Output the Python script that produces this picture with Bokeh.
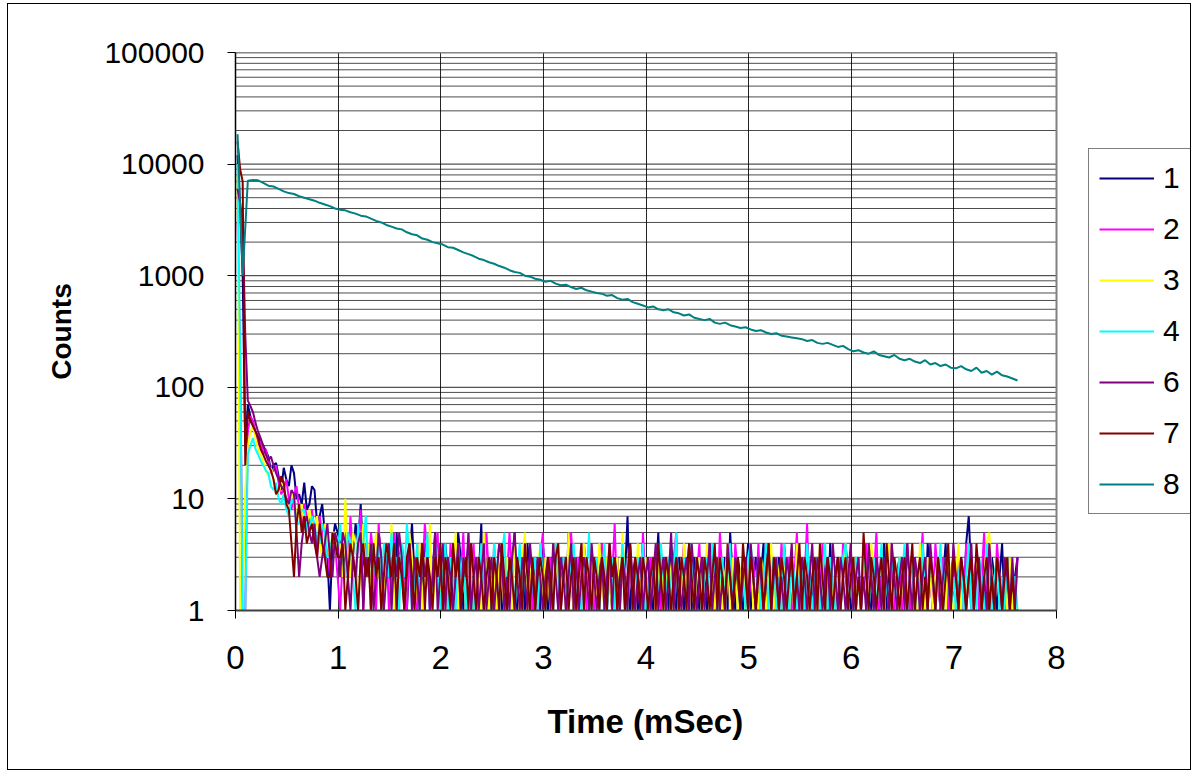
import numpy as np
from bokeh.plotting import figure
from bokeh.models import FixedTicker, PrintfTickFormatter, Legend, LegendItem, Range1d, Title
from bokeh.embed import file_html
from bokeh.resources import INLINE

# sample times (ms): detector series in 0.025 ms bins, series 8 in 0.05 ms bins
time_fine = np.round(0.02 + 0.025 * np.arange(305), 3)
time_coarse = np.round(0.02 + 0.05 * np.arange(153), 2)

s1 = [12000, 4000, 1000, 30, 70, 55, 48, 40, 36, 33, 30, 27, 24, 18, 20, 21, 16, 12, 19, 15,
      13, 20, 17, 10, 11, 9, 14, 8, 9, 13, 12, 6, 7, 9, 5, 3, 1, 4, 6, 5,
      4, 2, 3, 5, 2, 3, 6, 4, 9, 3, 2, 4, 1, 3, 2, 5, 3, 1, 4, 2,
      3, 1, 5, 2, 4, 2, 1, 3, 6, 2, 3, 1, 2, 4, 3, 1, 2, 5, 2, 3,
      1, 4, 2, 3, 1, 2, 5, 3, 1, 2, 4, 2, 1, 3, 2, 6, 1, 3, 2, 1,
      3, 2, 4, 1, 2, 1, 3, 2, 5, 1, 2, 3, 1, 4, 2, 1, 3, 2, 1, 4,
      2, 1, 3, 2, 4, 1, 2, 3, 1, 5, 2, 1, 3, 1, 2, 4, 2, 1, 3, 2,
      1, 2, 4, 1, 3, 2, 1, 2, 3, 1, 4, 2, 7, 1, 2, 3, 1, 2, 4, 1,
      3, 2, 1, 2, 5, 1, 3, 2, 1, 4, 2, 1, 3, 2, 1, 2, 4, 1, 3, 2,
      1, 3, 2, 1, 4, 2, 1, 3, 1, 2, 3, 1, 5, 2, 1, 3, 2, 1, 2, 4,
      1, 2, 3, 1, 2, 4, 1, 3, 2, 1, 2, 3, 1, 4, 2, 1, 3, 1, 2, 3,
      2, 1, 4, 2, 1, 3, 2, 1, 3, 2, 1, 4, 1, 2, 3, 1, 2, 4, 2, 1,
      3, 1, 2, 1, 4, 2, 3, 1, 2, 3, 1, 2, 4, 1, 3, 2, 1, 2, 3, 1,
      2, 4, 1, 3, 2, 1, 2, 3, 1, 4, 2, 1, 3, 2, 1, 2, 4, 1, 2, 3,
      1, 2, 3, 1, 4, 7, 2, 1, 3, 2, 1, 4, 2, 1, 3, 2, 1, 2, 4, 1,
      2, 3, 1, 2, 3]

s2 = [3000, 200, 1, 1, 40, 55, 50, 38, 30, 33, 25, 28, 22, 17, 18, 20, 14, 11, 12, 15,
      10, 8, 11, 13, 8, 6, 9, 7, 6, 8, 5, 3, 7, 5, 3, 4, 2, 5, 4, 2,
      1, 3, 5, 2, 7, 3, 2, 4, 8, 1, 4, 2, 5, 3, 1, 6, 2, 3, 4, 1,
      2, 5, 1, 3, 4, 2, 1, 5, 3, 2, 1, 4, 2, 6, 3, 1, 2, 3, 5, 1,
      3, 2, 1, 4, 2, 3, 1, 2, 5, 1, 3, 2, 4, 1, 2, 3, 1, 5, 2, 1,
      4, 1, 2, 3, 1, 2, 5, 2, 1, 3, 2, 1, 4, 2, 3, 1, 2, 1, 3, 5,
      1, 2, 3, 1, 4, 2, 1, 2, 3, 1, 5, 2, 1, 3, 2, 4, 1, 2, 3, 1,
      2, 1, 4, 2, 1, 3, 2, 6, 1, 2, 3, 1, 2, 4, 1, 3, 2, 1, 5, 2,
      1, 3, 2, 1, 4, 1, 2, 3, 2, 1, 3, 5, 1, 2, 4, 1, 2, 3, 1, 2,
      4, 1, 3, 2, 1, 2, 3, 1, 5, 2, 1, 2, 3, 1, 4, 2, 1, 3, 2, 1,
      2, 3, 1, 4, 1, 2, 3, 2, 1, 3, 2, 1, 4, 2, 1, 3, 1, 2, 5, 1,
      3, 2, 6, 1, 2, 3, 1, 2, 4, 1, 3, 2, 1, 2, 3, 1, 4, 2, 1, 3,
      1, 2, 3, 1, 2, 4, 1, 3, 2, 5, 1, 2, 1, 3, 2, 4, 1, 2, 3, 1,
      2, 4, 1, 2, 3, 1, 2, 5, 1, 3, 2, 1, 4, 2, 1, 3, 2, 1, 2, 3,
      1, 3, 2, 1, 4, 2, 1, 2, 3, 1, 2, 5, 1, 3, 2, 1, 4, 2, 1, 2,
      3, 1, 2, 1, 3]

s3 = [8000, 1, 1, 12, 30, 40, 45, 35, 28, 25, 22, 18, 16, 19, 15, 12, 11, 14, 13, 9,
      8, 11, 10, 7, 7, 9, 6, 5, 8, 6, 5, 7, 4, 3, 6, 4, 3, 5, 5, 3,
      4, 2, 10, 3, 2, 5, 4, 1, 3, 6, 2, 4, 1, 3, 5, 2, 3, 1, 4, 2,
      6, 1, 3, 2, 4, 1, 2, 5, 3, 1, 2, 4, 1, 3, 2, 6, 1, 2, 3, 1,
      4, 2, 1, 3, 2, 5, 1, 2, 3, 1, 4, 2, 1, 3, 2, 1, 5, 2, 1, 3,
      2, 1, 4, 2, 1, 3, 2, 1, 4, 2, 1, 3, 5, 1, 2, 3, 1, 2, 4, 1,
      3, 2, 1, 2, 4, 1, 3, 2, 1, 5, 2, 1, 3, 1, 2, 4, 2, 1, 3, 2,
      1, 4, 2, 1, 3, 2, 1, 2, 3, 1, 5, 2, 1, 3, 2, 1, 4, 2, 1, 3,
      2, 1, 3, 1, 2, 4, 1, 2, 3, 2, 1, 3, 2, 1, 4, 2, 1, 3, 1, 2,
      3, 1, 2, 4, 1, 2, 1, 3, 2, 1, 2, 4, 1, 3, 2, 1, 2, 3, 1, 2,
      4, 1, 2, 1, 3, 2, 1, 2, 4, 1, 3, 2, 1, 2, 3, 1, 2, 1, 4, 2,
      1, 3, 2, 1, 2, 3, 1, 4, 2, 1, 2, 3, 1, 2, 1, 3, 2, 4, 1, 2,
      3, 1, 2, 1, 3, 2, 1, 4, 2, 1, 2, 3, 1, 2, 4, 1, 2, 1, 3, 2,
      1, 2, 3, 1, 2, 1, 4, 2, 1, 3, 2, 1, 2, 3, 1, 2, 1, 3, 2, 1,
      2, 4, 1, 2, 1, 3, 2, 1, 3, 2, 1, 2, 4, 5, 2, 1, 3, 2, 1, 2,
      1, 3, 1, 2, 1]

s4 = [10000, 200, 1, 1, 25, 30, 35, 28, 25, 22, 20, 18, 17, 13, 12, 14, 10, 9, 11, 8,
      7, 10, 9, 6, 6, 8, 8, 5, 5, 7, 6, 4, 4, 6, 5, 3, 3, 5, 4, 3,
      6, 3, 2, 5, 4, 2, 1, 6, 3, 4, 7, 2, 4, 3, 2, 5, 1, 4, 3, 2,
      5, 2, 3, 1, 4, 2, 6, 3, 1, 2, 4, 1, 3, 2, 5, 1, 2, 4, 3, 1,
      2, 4, 1, 3, 2, 1, 4, 2, 3, 1, 5, 2, 1, 3, 2, 4, 1, 2, 3, 1,
      4, 2, 1, 3, 5, 1, 2, 3, 1, 2, 4, 1, 3, 2, 1, 2, 3, 1, 4, 2,
      1, 3, 2, 1, 4, 2, 1, 3, 2, 1, 3, 4, 1, 2, 1, 3, 2, 5, 1, 2,
      3, 1, 2, 4, 1, 2, 3, 1, 2, 1, 4, 2, 1, 3, 2, 1, 3, 2, 4, 1,
      2, 1, 3, 2, 1, 4, 2, 1, 3, 1, 2, 5, 1, 2, 3, 1, 2, 4, 1, 3,
      2, 1, 2, 3, 1, 4, 2, 1, 2, 3, 1, 2, 4, 1, 3, 2, 1, 2, 1, 3,
      4, 2, 1, 3, 1, 2, 4, 1, 2, 3, 1, 2, 1, 4, 2, 1, 3, 2, 1, 2,
      3, 1, 4, 2, 1, 2, 3, 1, 2, 4, 1, 3, 2, 1, 2, 1, 3, 4, 1, 2,
      1, 3, 2, 1, 4, 2, 1, 2, 3, 1, 2, 4, 1, 2, 1, 3, 2, 1, 3, 2,
      4, 1, 2, 3, 1, 2, 1, 4, 2, 1, 3, 2, 1, 2, 4, 1, 3, 2, 1, 2,
      1, 2, 3, 1, 2, 4, 1, 2, 1, 3, 2, 1, 4, 2, 1, 2, 3, 1, 2, 1,
      3, 1, 2, 2, 1]

s6 = [6000, 4500, 3000, 300, 76, 68, 60, 48, 40, 35, 30, 25, 22, 24, 20, 17, 15, 13, 12, 10,
      9, 12, 11, 5, 2, 4, 6, 7, 5, 4, 6, 3, 2, 3, 4, 6, 3, 2, 5, 4,
      2, 5, 4, 2, 1, 3, 2, 4, 5, 1, 3, 2, 4, 1, 2, 5, 3, 1, 2, 4,
      1, 3, 2, 5, 3, 1, 2, 4, 1, 3, 2, 1, 4, 2, 3, 1, 2, 5, 1, 2,
      4, 1, 3, 2, 1, 2, 4, 1, 3, 2, 5, 1, 2, 3, 1, 2, 4, 1, 2, 3,
      1, 2, 4, 3, 1, 2, 1, 3, 5, 2, 1, 3, 2, 1, 4, 2, 1, 3, 2, 1,
      2, 3, 1, 4, 2, 1, 3, 2, 1, 2, 4, 1, 3, 1, 2, 3, 2, 1, 4, 2,
      1, 2, 3, 1, 2, 4, 1, 3, 2, 1, 3, 2, 1, 4, 2, 1, 2, 3, 1, 2,
      3, 1, 2, 4, 1, 2, 3, 1, 2, 5, 1, 3, 2, 1, 2, 3, 1, 4, 2, 1,
      2, 3, 1, 2, 4, 1, 2, 3, 1, 2, 1, 4, 2, 1, 3, 2, 1, 2, 3, 1,
      4, 2, 1, 3, 2, 1, 2, 4, 1, 2, 3, 1, 2, 1, 3, 2, 4, 1, 2, 1,
      3, 2, 1, 2, 4, 1, 3, 2, 1, 2, 3, 1, 4, 2, 1, 3, 2, 1, 2, 4,
      1, 2, 3, 1, 2, 1, 4, 2, 1, 3, 2, 1, 3, 2, 1, 4, 2, 1, 2, 3,
      1, 4, 2, 1, 3, 2, 1, 2, 3, 1, 4, 2, 1, 3, 1, 2, 3, 2, 1, 4,
      2, 1, 3, 2, 1, 2, 4, 1, 2, 3, 1, 2, 1, 4, 2, 1, 3, 2, 1, 3,
      2, 1, 3, 1, 3]

s7 = [16000, 9000, 7000, 20, 60, 50, 45, 40, 35, 28, 25, 22, 20, 18, 15, 11, 12, 16, 14, 9,
      8, 4, 2, 6, 9, 5, 7, 4, 5, 6, 4, 3, 6, 4, 3, 2, 2, 5, 4, 3,
      3, 4, 1, 2, 4, 3, 2, 1, 3, 4, 2, 3, 1, 4, 2, 3, 1, 2, 4, 3,
      2, 4, 1, 3, 2, 1, 3, 4, 2, 1, 3, 2, 4, 1, 3, 2, 1, 3, 2, 4,
      1, 3, 2, 1, 4, 2, 3, 1, 2, 3, 1, 4, 2, 1, 3, 2, 1, 2, 3, 1,
      3, 2, 1, 4, 2, 1, 3, 2, 1, 3, 2, 1, 4, 2, 1, 3, 1, 2, 3, 2,
      1, 3, 2, 1, 3, 4, 1, 2, 3, 1, 2, 3, 1, 2, 4, 1, 3, 2, 1, 3,
      2, 1, 3, 2, 1, 4, 2, 3, 1, 2, 3, 1, 2, 4, 1, 3, 2, 1, 3, 2,
      1, 2, 3, 1, 4, 2, 1, 3, 2, 1, 2, 3, 1, 3, 2, 1, 4, 2, 1, 3,
      2, 1, 3, 2, 1, 2, 4, 1, 3, 2, 1, 3, 2, 1, 2, 3, 1, 4, 2, 1,
      3, 2, 1, 2, 3, 1, 2, 4, 1, 3, 2, 1, 3, 2, 1, 2, 3, 1, 2, 4,
      1, 3, 2, 1, 2, 3, 1, 4, 2, 1, 3, 2, 1, 2, 3, 1, 2, 3, 1, 2,
      3, 1, 2, 1, 5, 2, 1, 3, 2, 1, 2, 3, 1, 4, 2, 1, 3, 2, 1, 2,
      3, 1, 2, 4, 1, 2, 3, 1, 2, 1, 3, 2, 1, 3, 2, 1, 2, 4, 1, 3,
      2, 1, 3, 2, 1, 2, 3, 1, 4, 2, 1, 2, 3, 1, 2, 1, 3, 2, 1, 2,
      3, 1, 2, 1, 1]

s8 = [18500, 1000, 7100, 7200, 7150, 6800, 6400, 6300, 6000, 5700,
      5500, 5400, 5150, 5000, 4850, 4700, 4500, 4350, 4200, 4000,
      3900, 3850, 3700, 3600, 3450, 3400, 3250, 3100, 3000, 2850,
      2750, 2650, 2600, 2450, 2350, 2300, 2150, 2100, 2000, 1950,
      1900, 1800, 1780, 1700, 1620, 1560, 1500, 1420, 1380, 1320,
      1280, 1220, 1180, 1120, 1080, 1060, 1000, 980, 940, 920,
      880, 900, 850, 820, 830, 790, 760, 780, 740, 720,
      700, 690, 660, 670, 630, 610, 620, 580, 560, 540,
      520, 530, 500, 490, 500, 470, 460, 440, 450, 420,
      410, 400, 410, 380, 370, 380, 360, 350, 340, 345,
      330, 320, 325, 310, 300, 305, 290, 285, 280, 275,
      270, 260, 265, 250, 245, 250, 240, 230, 235, 220,
      210, 215, 205, 200, 210, 195, 190, 185, 195, 180,
      175, 180, 170, 165, 175, 160, 165, 155, 160, 150,
      148, 155, 145, 140, 150, 135, 140, 130, 138, 128,
      125, 120, 115]

series_labels = ["1", "2", "3", "4", "6", "7", "8"]
series_values = [s1, s2, s3, s4, s6, s7, s8]
series_times = [time_fine] * 6 + [time_coarse]
series_colors = ["#000080", "#FF00FF", "#FFFF00", "#00FFFF", "#800080", "#800000", "#008080"]

y_major = [1, 10, 100, 1000, 10000, 100000]
y_minor = [m * 10 ** e for e in range(0, 5) for m in range(2, 10)]
x_ticks = [0, 1, 2, 3, 4, 5, 6, 7, 8]
X_MIN, X_MAX = 0, 8

FONT = "Liberation Sans"

# the frame runs to the right edge so the legend (inside the frame) is not clipped;
# the data region x in [0, 8] covers the first 821 px of the 955 px wide frame
FRAME_W, DATA_W = 955, 821
x_view_max = X_MAX * FRAME_W / DATA_W

p = figure(width=1182, height=765,
           x_range=Range1d(X_MIN, x_view_max), y_range=Range1d(1, 100000),
           y_axis_type="log",
           output_backend="svg", toolbar_location=None,
           min_border_left=227, min_border_right=0,
           min_border_top=48, min_border_bottom=159)
p.margin = (4, 0, 0, 8)
p.styles = {"outline": "1.5px solid black"}
p.background_fill_color = "white"
p.border_fill_color = "white"
p.outline_line_color = None

# axes
p.xaxis.ticker = FixedTicker(ticks=x_ticks)
p.xaxis.bounds = (X_MIN, X_MAX)
p.yaxis.ticker = FixedTicker(ticks=y_major, minor_ticks=y_minor)
p.yaxis.formatter = PrintfTickFormatter(format="%d")
for ax in (p.xaxis[0], p.yaxis[0]):
    ax.major_label_text_font = FONT
    ax.major_label_text_color = "black"
    ax.major_tick_out = 8
    ax.major_tick_in = 0
    ax.minor_tick_line_color = None
    ax.major_tick_line_color = "black"
    ax.axis_label_text_font = FONT
    ax.axis_label_text_font_style = "bold"
    ax.axis_label_text_color = "black"
p.yaxis.major_label_text_font_size = "30px"
p.xaxis.major_label_text_font_size = "33px"
p.yaxis.axis_line_color = "black"
p.yaxis.axis_line_width = 1.5
p.xaxis.axis_line_color = "#404040"
p.xaxis.axis_line_width = 2
p.xaxis.major_label_standoff = 27
p.yaxis.major_label_standoff = 23
p.yaxis.axis_label = "Counts"
p.yaxis.axis_label_text_font_size = "28px"
p.yaxis.axis_label_standoff = 24

# x-axis title, centred under the data region (0..8)
xtitle = Title(text="Time (mSec)", align="left", offset=312,
               text_font=FONT, text_font_size="33px", text_font_style="bold",
               text_color="black", standoff=58)
p.add_layout(xtitle, "below")

# grid: vertical lines from the grid, horizontal lines limited to the data region
p.xgrid.ticker = FixedTicker(ticks=x_ticks)
p.xgrid.grid_line_color = "black"
p.xgrid.grid_line_alpha = 0.85
p.ygrid.grid_line_color = None
p.ygrid.minor_grid_line_color = None

p.segment(x0=[X_MIN] * len(y_minor), x1=[X_MAX] * len(y_minor), y0=y_minor, y1=y_minor,
          line_color="black", line_alpha=0.7, line_width=1)
p.segment(x0=[X_MIN] * len(y_major), x1=[X_MAX] * len(y_major), y0=y_major, y1=y_major,
          line_color="black", line_alpha=0.85, line_width=1)
# plot-area border (top and right)
p.segment(x0=[X_MIN, X_MAX], x1=[X_MAX, X_MAX], y0=[y_major[-1], y_major[0]],
          y1=[y_major[-1], y_major[-1]], line_color="#808080", line_width=2)

items = []
for lab, vals, tt, col in zip(series_labels, series_values, series_times, series_colors):
    n = min(len(vals), len(tt))
    r = p.line(tt[:n], vals[:n], line_color=col, line_width=2)
    items.append(LegendItem(label=lab, renderers=[r]))

legend = Legend(items=items, location=(853, 96))
legend.label_text_font = FONT
legend.label_text_font_size = "30px"
legend.label_text_color = "black"
legend.glyph_width = 55
legend.glyph_height = 38
legend.label_height = 38
legend.label_standoff = 9
legend.spacing = 13
legend.padding = 10
legend.margin = 0
legend.border_line_color = "black"
legend.border_line_width = 1
legend.background_fill_color = "white"
legend.background_fill_alpha = 1
p.add_layout(legend)

open("out.html", "w").write(file_html(p, INLINE))
